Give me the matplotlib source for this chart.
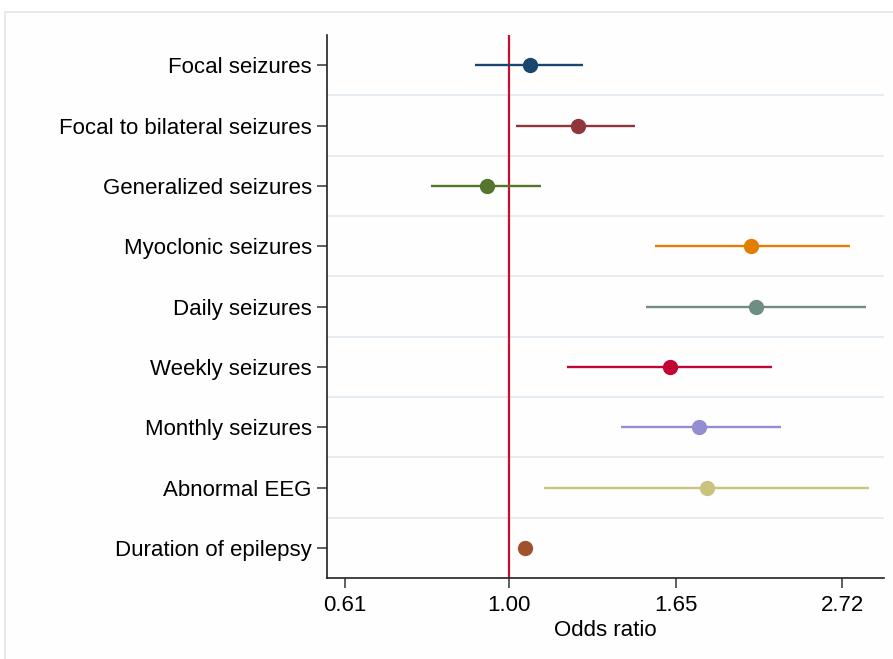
import matplotlib.pyplot as plt
import numpy as np
from matplotlib.patches import Rectangle

plt.rcParams["font.family"] = ["Liberation Sans", "DejaVu Sans"]

labels = [
    "Focal seizures",
    "Focal to bilateral seizures",
    "Generalized seizures",
    "Myoclonic seizures",
    "Daily seizures",
    "Weekly seizures",
    "Monthly seizures",
    "Abnormal EEG",
    "Duration of epilepsy",
]
odds_ratio = [1.065, 1.23, 0.936, 2.07, 2.10, 1.62, 1.77, 1.81, 1.05]
ci_low = [0.903, 1.02, 0.79, 1.55, 1.51, 1.19, 1.40, 1.11, 1.04]
ci_high = [1.25, 1.46, 1.10, 2.78, 2.92, 2.20, 2.26, 2.95, 1.065]
colors = ["#1a476f", "#90353b", "#55752f", "#e37e00", "#6e8e84",
          "#c10534", "#938dd2", "#cac27e", "#a0522d"]
tick_values = [0.61, 1.00, 1.65, 2.72]

fig = plt.figure(figsize=(8.93, 6.59), dpi=100)
frame = Rectangle((5 / 893, -0.01), 1.0, 1 - 12 / 659 + 0.01,
                  transform=fig.transFigure, facecolor="#fefefe",
                  edgecolor="#dde6ec", linewidth=1.2, zorder=-10)
fig.add_artist(frame)
ax = fig.add_axes([327 / 893, 81 / 659, 557 / 893, 543 / 659])
ax.patch.set_alpha(0)

n = len(labels)
ypos = np.arange(1, n + 1)

# light separators between rows
for mid in np.arange(1.5, n, 1.0):
    ax.axhline(mid, color="#e6edf2", linewidth=1.4, zorder=1)

ax.axvline(1.0, color="#c8102e", linewidth=1.6, zorder=2)

for y, est, lo, hi, col in zip(ypos, odds_ratio, ci_low, ci_high, colors):
    ax.plot([lo, hi], [y, y], color=col, linewidth=1.7, zorder=3,
            solid_capstyle="butt")
    ax.plot(est, y, "o", color=col, markersize=10, zorder=4)

ax.set_xscale("log")
ax.set_xlim(np.exp(-0.547), np.exp(1.126))
ax.set_ylim(n + 0.5, 0.5)
ax.set_xticks(tick_values)
ax.set_xticklabels([f"{v:.2f}" for v in tick_values])
ax.xaxis.set_minor_locator(plt.NullLocator())
ax.set_yticks(ypos)
ax.set_yticklabels(labels)
ax.tick_params(axis="both", labelsize=16, length=7, width=1.1,
               color="#333333", pad=4)
ax.tick_params(axis="x", pad=5)
ax.set_xlabel("Odds ratio", fontsize=16, labelpad=3)

for side in ["top", "right"]:
    ax.spines[side].set_visible(False)
for side in ["left", "bottom"]:
    ax.spines[side].set_linewidth(1.2)
    ax.spines[side].set_color("#222222")

fig.savefig("out.png", dpi=100)
